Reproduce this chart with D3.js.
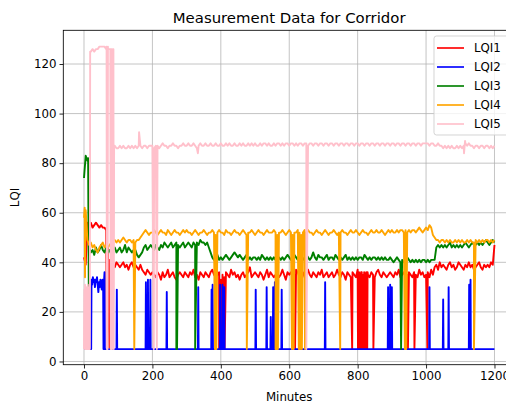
<!DOCTYPE html>
<html>
<head>
<meta charset="utf-8">
<script src="https://cdn.jsdelivr.net/npm/d3@7"></script>
<style>
body { margin: 0; background: #fff; }
svg text { font-family: "DejaVu Sans", sans-serif; fill: #000; }
</style>
</head>
<body>
<div id="container"></div>
<script>
// base samples every STEP minutes, one row = 50 minutes
const STEP = 5

const lqi1 = [
    42, 39, 56, 55, 56, 54, 55, 56, 55, 54,
    55, 54, 54, 53, 46, 41, 40, 39, 38, 40,
    39, 38, 39, 40, 38, 39, 37, 39, 40, 38,
    39, 38, 37, 39, 37, 36, 35, 37, 36, 35,
    36, 35, 34, 36, 35, 33, 36, 34, 35, 37,
    34, 35, 36, 34, 33, 35, 36, 35, 34, 36,
    35, 34, 36, 35, 37, 34, 35, 33, 36, 35,
    34, 36, 35, 34, 36, 37, 35, 34, 35, 36,
    33, 35, 34, 36, 35, 34, 37, 35, 36, 34,
    35, 33, 35, 36, 34, 35, 36, 38, 34, 35,
    36, 35, 34, 36, 35, 33, 35, 37, 34, 36,
    35, 34, 35, 36, 34, 35, 37, 35, 33, 36,
    35, 36, 34, 35, 37, 36, 34, 35, 36, 34,
    35, 37, 35, 34, 36, 35, 34, 36, 35, 37,
    34, 35, 36, 34, 35, 36, 34, 35, 37, 35,
    34, 36, 35, 33, 36, 35, 34, 36, 35, 34,
    37, 35, 36, 34, 35, 36, 35, 34, 36, 35,
    34, 36, 37, 35, 34, 36, 35, 34, 35, 36,
    35, 34, 36, 35, 37, 34, 35, 36, 34, 35,
    36, 35, 34, 36, 35, 34, 37, 35, 36, 34,
    35, 36, 34, 37, 35, 38, 39, 37, 40, 38,
    39, 38, 37, 39, 40, 38, 39, 37, 38, 40,
    39, 38, 37, 39, 38, 40, 38, 39, 37, 38,
    39, 40, 38, 37, 39, 38, 39, 38, 40, 39,
    47
]
// short dropouts and spikes as [minute, value]
const lqi1Events = [
    [67, 5], [74, 5], [395, 5], [401, 5], [406, 5], [411, 5], [617, 5], [784, 5],
    [801, 5], [802, 34], [803, 5], [804, 36], [806, 5], [807, 35], [808, 5], [809, 34],
    [811, 5], [812, 36], [813, 5], [814, 35], [816, 5], [817, 34], [818, 5], [819, 36],
    [821, 5], [822, 35], [823, 5], [824, 34], [826, 5], [827, 35], [828, 5], [829, 36],
    [846, 5], [947, 5], [966, 5], [1004, 5]
]

// LQI2 sits at the floor, listed as [minute, value]
const lqi2 = [
    [0, 5], [21, 5], [22, 33], [24, 31], [26, 34], [28, 32], [30, 33], [32, 30], [34, 33],
    [36, 32], [38, 34], [40, 31], [42, 28], [44, 32], [46, 30], [48, 33], [50, 31],
    [52, 29], [54, 33], [56, 30], [57, 5], [58, 31], [60, 36], [61, 5],
    [95, 5], [96, 29], [97, 5], [180, 5], [181, 32], [182, 5], [186, 5], [187, 33], [188, 5],
    [193, 5], [194, 33], [195, 5], [241, 5], [242, 28], [243, 5], [333, 5], [334, 30], [335, 5],
    [372, 5], [373, 29], [374, 5], [375, 5], [376, 31], [377, 5], [397, 5], [398, 31], [399, 5],
    [404, 5], [405, 31], [406, 5], [409, 5], [410, 30], [411, 5], [501, 5], [502, 29], [503, 5],
    [533, 5], [534, 30], [535, 5], [545, 5], [546, 18], [547, 5], [552, 5], [553, 30], [554, 5],
    [557, 5], [558, 32], [559, 5], [577, 5], [578, 29], [579, 5], [704, 5], [705, 32], [706, 5],
    [888, 5], [889, 30], [890, 5], [894, 5], [895, 31], [896, 5], [899, 5], [900, 30], [901, 5],
    [1009, 5], [1010, 30], [1011, 5], [1049, 5], [1050, 25], [1051, 5], [1065, 5], [1066, 30],
    [1067, 5], [1125, 5], [1126, 31], [1127, 5], [1129, 5], [1130, 33], [1131, 5], [1200, 5]
]

const lqi3 = [
    74, 83, 81, 46, 44, 45, 43, 46, 44, 45,
    47, 45, 44, 46, 44, 45, 43, 45, 46, 44,
    45, 46, 44, 45, 47, 44, 46, 45, 44, 45,
    45, 43, 42, 43, 44, 46, 47, 45, 46, 47,
    46, 45, 47, 46, 45, 47, 46, 48, 47, 46,
    47, 48, 46, 47, 48, 47, 46, 47, 48, 46,
    47, 48, 47, 46, 48, 47, 48, 47, 49, 48,
    48, 47, 48, 46, 44, 42, 41, 42, 43, 41,
    42, 41, 42, 43, 42, 41, 42, 43, 44, 43,
    42, 43, 42, 41, 42, 43, 41, 42, 41, 42,
    42, 41, 42, 41, 43, 42, 41, 42, 41, 42,
    41, 42, 41, 42, 42, 41, 42, 41, 42, 43,
    42, 41, 42, 43, 42, 41, 43, 42, 41, 42,
    43, 42, 41, 42, 44, 42, 41, 43, 42, 42,
    41, 42, 43, 41, 42, 42, 41, 43, 42, 41,
    42, 41, 42, 43, 41, 42, 41, 42, 41, 42,
    41, 42, 42, 41, 43, 42, 41, 42, 41, 42,
    42, 41, 42, 41, 42, 41, 42, 41, 41, 42,
    41, 40, 41, 42, 41, 40, 41, 40, 41, 42,
    41, 40, 41, 40, 41, 40, 41, 40, 41, 41,
    40, 41, 40, 41, 41, 41, 46, 47, 46, 47,
    46, 47, 46, 47, 48, 46, 47, 46, 47, 46,
    47, 46, 47, 48, 47, 46, 47, 48, 47, 47,
    48, 47, 48, 47, 48, 49, 48, 47, 48, 49,
    48
]
const lqi3Events = [[12, 82], [14, 30], [270, 5], [272, 5], [325, 5], [927, 5]]

const lqi4 = [
    58, 61, 49, 47, 48, 46, 47, 45, 44, 46,
    47, 48, 46, 47, 46, 47, 48, 49, 49, 48,
    49, 48, 49, 50, 49, 48, 49, 49, 48, 49,
    48, 49, 49, 50, 51, 52, 53, 52, 51, 52,
    52, 53, 52, 51, 52, 53, 52, 52, 51, 53,
    52, 51, 52, 53, 52, 52, 51, 52, 53, 52,
    53, 52, 52, 51, 52, 53, 52, 51, 52, 52,
    53, 52, 51, 52, 52, 53, 52, 51, 52, 53,
    52, 52, 51, 53, 52, 52, 51, 52, 53, 52,
    52, 51, 52, 53, 52, 51, 52, 52, 53, 52,
    51, 52, 53, 52, 52, 51, 52, 53, 52, 52,
    52, 53, 52, 51, 52, 52, 53, 52, 51, 52,
    53, 52, 51, 52, 52, 53, 52, 51, 52, 53,
    52, 53, 52, 52, 51, 52, 53, 52, 52, 51,
    52, 53, 52, 51, 52, 52, 53, 52, 51, 52,
    52, 53, 52, 52, 51, 52, 53, 52, 52, 53,
    52, 51, 52, 53, 52, 52, 51, 52, 53, 52,
    52, 53, 52, 52, 53, 52, 51, 52, 53, 52,
    53, 52, 52, 53, 52, 53, 53, 52, 53, 52,
    53, 52, 53, 53, 52, 53, 54, 53, 52, 53,
    54, 53, 55, 54, 51, 50, 49, 49, 48, 49,
    49, 48, 49, 48, 49, 48, 48, 49, 48, 49,
    48, 49, 48, 48, 49, 48, 49, 48, 48, 49,
    48, 49, 48, 49, 48, 49, 49, 48, 49, 48,
    49
]
const lqi4Events = [
    [2, 62], [3, 34], [4, 60], [147, 5], [383, 5], [387, 5], [476, 5], [560, 5], [563, 5],
    [567, 5], [608, 5], [613, 5], [628, 5], [632, 5], [637, 5], [646, 5], [749, 5],
    [938, 5], [942, 5], [1140, 5]
]

const lqi5 = [
    5, 30, 5, 5, 125, 126, 125, 126, 126, 127,
    127, 127, 127, 126, 127, 126, 126, 125, 87, 86,
    86, 87, 86, 87, 86, 86, 87, 86, 87, 86,
    87, 86, 87, 87, 86, 87, 87, 86, 87, 87,
    87, 86, 87, 87, 86, 87, 88, 87, 87, 86,
    87, 87, 88, 87, 87, 86, 87, 87, 88, 87,
    87, 88, 87, 87, 88, 87, 86, 87, 88, 87,
    87, 88, 87, 87, 88, 87, 87, 88, 87, 87,
    88, 87, 87, 88, 87, 88, 87, 87, 88, 87,
    87, 88, 87, 88, 87, 87, 88, 87, 88, 87,
    88, 87, 87, 88, 87, 88, 88, 87, 88, 87,
    87, 88, 87, 88, 88, 87, 88, 87, 88, 88,
    87, 88, 88, 87, 88, 87, 88, 88, 87, 88,
    88, 87, 88, 88, 87, 88, 88, 87, 88, 88,
    87, 88, 88, 87, 88, 88, 87, 88, 88, 87,
    88, 88, 87, 88, 88, 87, 88, 88, 87, 88,
    88, 87, 88, 88, 87, 88, 88, 87, 88, 88,
    87, 88, 88, 87, 88, 88, 87, 88, 88, 87,
    88, 88, 87, 88, 88, 87, 88, 88, 87, 88,
    88, 87, 88, 88, 87, 88, 88, 87, 88, 88,
    88, 88, 87, 88, 88, 87, 87, 88, 87, 87,
    86, 87, 86, 87, 86, 87, 86, 86, 87, 86,
    87, 86, 87, 88, 87, 88, 87, 87, 86, 87,
    87, 86, 87, 87, 86, 87, 87, 86, 87, 86,
    87
]
const lqi5Events = [
    [1, 29], [2, 5], [3, 31], [4, 6], [6, 5], [7, 28], [8, 30], [9, 5], [11, 31], [12, 6],
    [13, 30], [14, 5], [16, 30], [17, 5], [18, 125],
    [66, 127], [67, 5], [69, 5], [70, 126], [77, 126], [78, 5], [79, 126], [81, 126], [82, 5],
    [84, 126], [86, 126], [87, 5], [88, 87], [161, 92.5], [204, 5], [213, 5], [333, 84],
    [650, 5], [1111, 84], [1114, 89]
]

const seriesNames = ["LQI1", "LQI2", "LQI3", "LQI4", "LQI5"]
const seriesColors = ["red", "blue", "green", "orange", "pink"]
const xTicks = [0, 200, 400, 600, 800, 1000, 1200]
const yTicks = [0, 20, 40, 60, 80, 100, 120]

const width = 506
const height = 405
const margin = { left: 63.3, right: -9, top: 30.3, bottom: 40.3 }

const toPoints = (vals, events) =>
    vals.map((v, i) => [i * STEP, v]).concat(events).sort((a, b) => a[0] - b[0])

const series = [
    toPoints(lqi1, lqi1Events),
    lqi2,
    toPoints(lqi3, lqi3Events),
    toPoints(lqi4, lqi4Events),
    toPoints(lqi5, lqi5Events)
]

const svg = d3.select("#container").append("svg")
    .attr("width", width).attr("height", height)

const x = d3.scaleLinear().domain([-60.5, 1260]).range([margin.left, width - margin.right])
const y = d3.scaleLinear().domain([-1.3, 133.6]).range([height - margin.bottom, margin.top])

const x0 = margin.left, x1 = width - margin.right
const y0 = height - margin.bottom, y1 = margin.top

// grid
svg.append("g").selectAll("line").data(xTicks).join("line")
    .attr("x1", d => x(d)).attr("x2", d => x(d)).attr("y1", y1).attr("y2", y0)
    .attr("stroke", "#b0b0b0").attr("stroke-width", 0.75)
svg.append("g").selectAll("line").data(yTicks).join("line")
    .attr("x1", x0).attr("x2", x1).attr("y1", d => y(d)).attr("y2", d => y(d))
    .attr("stroke", "#b0b0b0").attr("stroke-width", 0.75)

svg.append("clipPath").attr("id", "plot")
    .append("rect").attr("x", x0).attr("y", y1).attr("width", x1 - x0).attr("height", y0 - y1)

const line = d3.line().x(d => x(d[0])).y(d => y(d[1]))
const plot = svg.append("g").attr("clip-path", "url(#plot)")
series.forEach((s, i) => {
    plot.append("path")
        .attr("d", line(s))
        .attr("fill", "none")
        .attr("stroke", seriesColors[i])
        .attr("stroke-width", 1.9)
        .attr("stroke-linejoin", "round")
})

// axes
const xAxis = svg.append("g").attr("transform", `translate(0,${y0})`)
    .call(d3.axisBottom(x).tickValues(xTicks).tickFormat(d3.format("d")).tickSize(3.8).tickPadding(3))
const yAxis = svg.append("g").attr("transform", `translate(${x0},0)`)
    .call(d3.axisLeft(y).tickValues(yTicks).tickFormat(d3.format("d")).tickSize(3.8).tickPadding(3))
;[xAxis, yAxis].forEach(a => {
    a.select(".domain").remove()
    a.selectAll("line").attr("stroke", "#000").attr("stroke-width", 0.85)
    a.selectAll("text").style("font-size", "11.8px").attr("fill", "#000")
        .style("font-family", "DejaVu Sans, sans-serif")
})

// frame
svg.append("rect").attr("x", x0).attr("y", y1).attr("width", x1 - x0).attr("height", y0 - y1)
    .attr("fill", "none").attr("stroke", "#000").attr("stroke-width", 0.85)

svg.append("text").attr("x", (x0 + x1) / 2).attr("y", 23)
    .attr("text-anchor", "middle").style("font-size", "14.9px")
    .text("Measurement Data for Corridor")
svg.append("text").attr("x", (x0 + x1) / 2).attr("y", 401)
    .attr("text-anchor", "middle").style("font-size", "11.8px")
    .text("Minutes")
svg.append("text").attr("transform", `translate(19,${(y0 + y1) / 2}) rotate(-90)`)
    .attr("text-anchor", "middle").style("font-size", "11.8px")
    .text("LQI")

// legend
const legend = svg.append("g")
legend.append("rect").attr("x", 434).attr("y", 36).attr("width", 80).attr("height", 99)
    .attr("rx", 2.5).attr("fill", "#fff").attr("fill-opacity", 0.8)
    .attr("stroke", "#cccccc").attr("stroke-width", 0.85)
seriesNames.forEach((n, i) => {
    const ly = 48 + i * 19
    legend.append("line").attr("x1", 437).attr("x2", 464).attr("y1", ly).attr("y2", ly)
        .attr("stroke", seriesColors[i]).attr("stroke-width", 1.65)
    legend.append("text").attr("x", 474).attr("y", ly).attr("dy", "0.36em")
        .style("font-size", "11.8px").text(n)
})
</script>
</body>
</html>
